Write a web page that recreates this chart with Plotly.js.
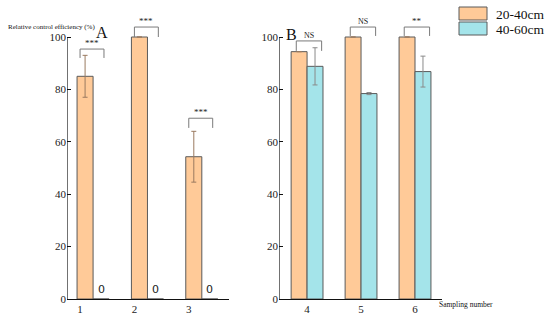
<!DOCTYPE html>
<html><head><meta charset="utf-8">
<script src="https://cdn.plot.ly/plotly-3.0.1.min.js"></script>
<style>html,body{margin:0;padding:0;background:#fff;}#c{width:550px;height:323px;}</style>
</head><body><div id="c"></div>
<script>
// Data
const samplesA = [1, 2, 3];
const samplesB = [4, 5, 6];
const shallowA = [85, 100, 54.3];       // 20-40cm, panel A
const shallowErrA = [8, 0, 9.7];
const deepA = [0, 0, 0];                 // 40-60cm, panel A
const shallowB = [94.4, 100, 100];       // 20-40cm, panel B
const shallowErrB = [0, 0, 0];
const deepB = [88.8, 78.4, 86.8];        // 40-60cm, panel B
const deepErrB = [7.1, 0.4, 5.9];
const sigA = ['***', '***', '***'];
const sigTopA = [95.4, 103.8, 69];
const sigLegA = [92, 100, 65.3];
const sigB = ['NS', 'NS', '**'];
const sigTopB = [98.5, 103.8, 103.8];
const sigLegB = [94.7, 100.4, 100.4];
const seriesNames = ['20-40cm', '40-60cm'];
const yTicks = [0, 20, 40, 60, 80, 100];

const orange = '#FFCA98', teal = '#A4E4EA', edge = '#5a5a5a';
const serif = 'Liberation Serif, Times New Roman, serif';
const rangeA = [0.52, 3.5], rangeB = [3.48, 6.5], yMax = 106;

const traces = [];
function bars(x, y, err, color, errColor, xa, ya, name) {
  const t = {type: 'bar', x: x, y: y, name: name, xaxis: xa, yaxis: ya,
    marker: {color: color, line: {color: edge, width: 1}}, showlegend: false, hoverinfo: 'skip', cliponaxis: false};
  if (err) t.error_y = {type: 'data', array: err, visible: true, color: errColor, thickness: 1, width: 2.5};
  traces.push(t);
}
bars(samplesA, shallowA, shallowErrA, orange, '#9a7a60', 'x', 'y', seriesNames[0]);
bars(samplesA, deepA, null, teal, '#888', 'x', 'y', seriesNames[1]);
bars(samplesB, shallowB, shallowErrB, orange, '#9a7a60', 'x2', 'y2', seriesNames[0]);
bars(samplesB, deepB, deepErrB, teal, '#8a8a8a', 'x2', 'y2', seriesNames[1]);

// y axis lines drawn only up to 100
[['x', 'y', rangeA[0]], ['x2', 'y2', rangeB[0]]].forEach(([xa, ya, x0]) => {
  traces.push({type: 'scatter', mode: 'lines', xaxis: xa, yaxis: ya, x: [x0, x0], y: [0, yTicks[yTicks.length - 1]],
    line: {color: '#111', width: 1.2}, cliponaxis: false, showlegend: false, hoverinfo: 'skip'});
});

const annotations = [];
function brackets(xs, tops, legs, labels, dl, dr, xa, ya) {
  xs.forEach((g, i) => {
    traces.push({type: 'scatter', mode: 'lines', xaxis: xa, yaxis: ya,
      x: [g + dl, g + dl, g + dr, g + dr], y: [legs[i], tops[i], tops[i], legs[i]],
      line: {color: '#7a7a7a', width: 1}, cliponaxis: false, showlegend: false, hoverinfo: 'skip'});
    annotations.push({xref: xa, yref: ya, x: g + (dl + dr) / 2, y: tops[i], text: labels[i],
      showarrow: false, yanchor: 'bottom', yshift: -1, font: {family: serif, size: labels[i] === 'NS' ? 8 : 9, color: '#222'}});
  });
}
brackets(samplesA, sigTopA, sigLegA, sigA, -0.24, 0.2, 'x', 'y');
brackets(samplesB, sigTopB, sigLegB, sigB, -0.2, 0.27, 'x2', 'y2');

// zero labels for panel A deep series
samplesA.forEach((g, i) => {
  annotations.push({xref: 'x', yref: 'y', x: g + 0.15, y: deepA[i], text: String(deepA[i]), showarrow: false,
    yanchor: 'bottom', yshift: 1, font: {family: 'DejaVu Sans, sans-serif', size: 11, color: '#222'}});
});

annotations.push(
  {xref: 'paper', yref: 'paper', x: 6/550, y: 1 - 27/323, xanchor: 'left', yanchor: 'middle', showarrow: false,
   text: 'Relative control efficiency (%)', font: {family: serif, size: 7, color: '#111'}},
  {xref: 'paper', yref: 'paper', x: 102/550, y: 1 - 32/323, xanchor: 'center', yanchor: 'middle', showarrow: false,
   text: 'A', font: {family: serif, size: 16, color: '#111'}},
  {xref: 'paper', yref: 'paper', x: 291/550, y: 1 - 34/323, xanchor: 'center', yanchor: 'middle', showarrow: false,
   text: 'B', font: {family: serif, size: 16, color: '#111'}},
  {xref: 'paper', yref: 'paper', x: 437/550, y: 1 - 304/323, xanchor: 'left', yanchor: 'middle', showarrow: false,
   text: 'Sampling number', font: {family: serif, size: 7.5, color: '#111'}},
  {xref: 'paper', yref: 'paper', x: 494/550, y: 1 - 14/323, xanchor: 'left', yanchor: 'middle', showarrow: false,
   text: seriesNames[0], font: {family: serif, size: 13.5, color: '#111'}},
  {xref: 'paper', yref: 'paper', x: 494/550, y: 1 - 29/323, xanchor: 'left', yanchor: 'middle', showarrow: false,
   text: seriesNames[1], font: {family: serif, size: 13.5, color: '#111'}}
);

const shapes = [
  {type: 'rect', xref: 'paper', yref: 'paper', x0: 459/550, x1: 487/550, y0: 1 - 20/323, y1: 1 - 7/323,
   fillcolor: orange, line: {color: edge, width: 1}},
  {type: 'rect', xref: 'paper', yref: 'paper', x0: 459/550, x1: 487/550, y0: 1 - 35/323, y1: 1 - 22/323,
   fillcolor: teal, line: {color: edge, width: 1}}
];

const pxPerUnit = 262 / 100;
const yax = {range: [0, yMax], tickvals: yTicks, ticks: 'inside', ticklen: 4, tickcolor: '#111', showgrid: false,
  zeroline: false, showline: false,
  tickfont: {family: serif, size: 11, color: '#222'}, domain: [1 - 299/323, 1 - (37 - (yMax - 100) * pxPerUnit)/323]};
const xax = {showgrid: false, zeroline: false, showline: true, linecolor: '#111', linewidth: 1.2, ticks: '',
  tickfont: {family: serif, size: 11, color: '#222'}};

const layout = {
  width: 550, height: 323, margin: {l: 0, r: 0, t: 0, b: 0},
  paper_bgcolor: '#fff', plot_bgcolor: 'rgba(0,0,0,0)',
  barmode: 'group', bargap: 0.41, bargroupgap: 0,
  showlegend: false,
  xaxis: Object.assign({}, xax, {domain: [67/550, 229/550], range: rangeA,
    tickvals: samplesA.map(v => v - 0.24), ticktext: samplesA.map(String), anchor: 'y'}),
  yaxis: Object.assign({}, yax, {anchor: 'x'}),
  xaxis2: Object.assign({}, xax, {domain: [279/550, 442/550], range: rangeB,
    tickvals: samplesB, ticktext: samplesB.map(String), anchor: 'y2'}),
  yaxis2: Object.assign({}, yax, {anchor: 'x2'}),
  annotations: annotations, shapes: shapes
};
Plotly.newPlot('c', traces, layout, {staticPlot: true, displayModeBar: false});
</script></body></html>
